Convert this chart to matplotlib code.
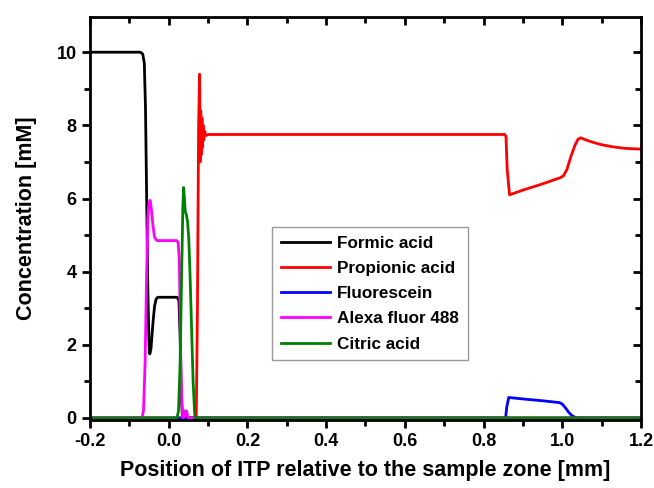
import matplotlib
matplotlib.use("Agg")
import matplotlib.pyplot as plt
from matplotlib.ticker import MultipleLocator

plt.rcParams['font.family'] = ['Liberation Sans', 'DejaVu Sans']
plt.rcParams['font.weight'] = 'bold'

# Formic acid
formic_x = [-0.2, -0.072, -0.066, -0.062, -0.059, -0.056, -0.053, -0.050, -0.048,
            -0.045, -0.040, -0.036, -0.032, -0.028, 0.022, 0.026, 0.029, 0.032, 0.035, 1.2]
formic_y = [10.0, 10.0, 9.95, 9.7, 8.5, 6.0, 3.5, 2.0, 1.75,
            1.9, 2.6, 3.05, 3.25, 3.3, 3.3, 3.2, 2.2, 0.6, 0.0, 0.0]

# Propionic acid
prop_x = [-0.2, 0.070, 0.073, 0.076, 0.0785, 0.080, 0.0815, 0.083, 0.0845, 0.086,
          0.0875, 0.089, 0.091, 0.094, 0.10, 0.854, 0.857, 0.860, 0.866,
          0.90, 0.95, 0.995, 1.003, 1.012, 1.022, 1.032, 1.040, 1.047,
          1.06, 1.08, 1.10, 1.13, 1.16, 1.2]
prop_y = [0.0, 0.0, 3.0, 8.0, 9.4, 7.0, 8.4, 7.2, 8.2, 7.4,
          8.0, 7.6, 7.85, 7.72, 7.75, 7.75, 7.7, 6.8, 6.1,
          6.23, 6.4, 6.57, 6.62, 6.8, 7.15, 7.45, 7.62, 7.66,
          7.6, 7.53, 7.47, 7.41, 7.37, 7.35]

# Fluorescein
fluo_x = [-0.2, 0.856, 0.859, 0.864, 0.90, 0.95, 0.993, 1.000, 1.008, 1.016,
          1.024, 1.032, 1.04, 1.2]
fluo_y = [0.0, 0.0, 0.3, 0.56, 0.52, 0.47, 0.42, 0.38, 0.28, 0.16,
          0.07, 0.02, 0.0, 0.0]

# Alexa fluor 488
alexa_x = [-0.2, -0.068, -0.064, -0.060, -0.056, -0.053, -0.050, -0.047, -0.044,
           -0.040, -0.036, -0.032, -0.028, 0.020, 0.024, 0.027, 0.030, 0.033, 0.036,
           0.038, 0.040, 0.042, 0.044, 0.046, 0.048, 0.050, 1.2]
alexa_y = [0.0, 0.0, 0.2, 1.5, 4.0, 5.5, 5.9, 5.95, 5.7,
           5.25, 4.95, 4.87, 4.85, 4.85, 4.8, 4.3, 2.0, 0.5, 0.0,
           0.15, 0.05, 0.2, 0.08, 0.18, 0.04, 0.0, 0.0]

# Citric acid
citric_x = [-0.2, 0.021, 0.025, 0.029, 0.033, 0.036, 0.038, 0.040, 0.042, 0.045,
            0.048, 0.051, 0.054, 0.058, 0.062, 0.066, 0.068, 1.2]
citric_y = [0.0, 0.0, 0.2, 1.5, 4.0, 5.8, 6.3, 6.0, 5.65, 5.55,
            5.35, 4.9, 4.0, 2.5, 1.0, 0.1, 0.0, 0.0]

labels = ["Formic acid", "Propionic acid", "Fluorescein", "Alexa fluor 488", "Citric acid"]
colors = ["black", "#ff0000", "#0000ff", "#ff00ff", "#008000"]

fig = plt.figure(figsize=(6.54, 4.88), dpi=100)
ax = fig.add_axes([0.1376, 0.139, 0.8425, 0.826])

series = [(formic_x, formic_y), (prop_x, prop_y), (fluo_x, fluo_y),
          (alexa_x, alexa_y), (citric_x, citric_y)]
for (xs, ys), lab, c in zip(series, labels, colors):
    ax.plot(xs, ys, color=c, lw=2, label=lab)

ax.set_xlim(-0.2, 1.2)
ax.set_ylim(-0.06, 10.96)
ax.xaxis.set_major_locator(MultipleLocator(0.2))
ax.xaxis.set_minor_locator(MultipleLocator(0.1))
ax.yaxis.set_major_locator(MultipleLocator(2))
ax.yaxis.set_minor_locator(MultipleLocator(1))
ax.set_xticklabels([f"{v:.1f}" for v in ax.get_xticks()])

for s in ax.spines.values():
    s.set_linewidth(2)

ax.tick_params(which='both', direction='out', width=2, labelsize=13)
ax.tick_params(which='major', length=6)
ax.tick_params(which='minor', length=4)

# inward ticks on top and right
axt = ax.secondary_xaxis('top')
axt.xaxis.set_major_locator(MultipleLocator(0.2))
axt.xaxis.set_minor_locator(MultipleLocator(0.1))
axt.tick_params(which='both', direction='in', width=2, labeltop=False)
axt.tick_params(which='major', length=6)
axt.tick_params(which='minor', length=4)
axr = ax.secondary_yaxis('right')
axr.yaxis.set_major_locator(MultipleLocator(2))
axr.yaxis.set_minor_locator(MultipleLocator(1))
axr.tick_params(which='both', direction='in', width=2, labelright=False)
axr.tick_params(which='major', length=6)
axr.tick_params(which='minor', length=4)

ax.set_xlabel("Position of ITP relative to the sample zone [mm]", fontsize=15.5,
              fontweight='bold', labelpad=7)
ax.set_ylabel("Concentration [mM]", fontsize=15.5, fontweight='bold', labelpad=14)

leg = ax.legend(loc='upper left', bbox_to_anchor=(0.331, 0.479), borderaxespad=0,
                fontsize=12.3, frameon=True, fancybox=False, handlelength=2.9,
                handletextpad=0.4, labelspacing=0.6, borderpad=0.5)
leg.get_frame().set_edgecolor('#808080')
leg.get_frame().set_linewidth(1)
for t in leg.get_texts():
    t.set_fontweight('bold')

fig.savefig("out.png", dpi=100)
